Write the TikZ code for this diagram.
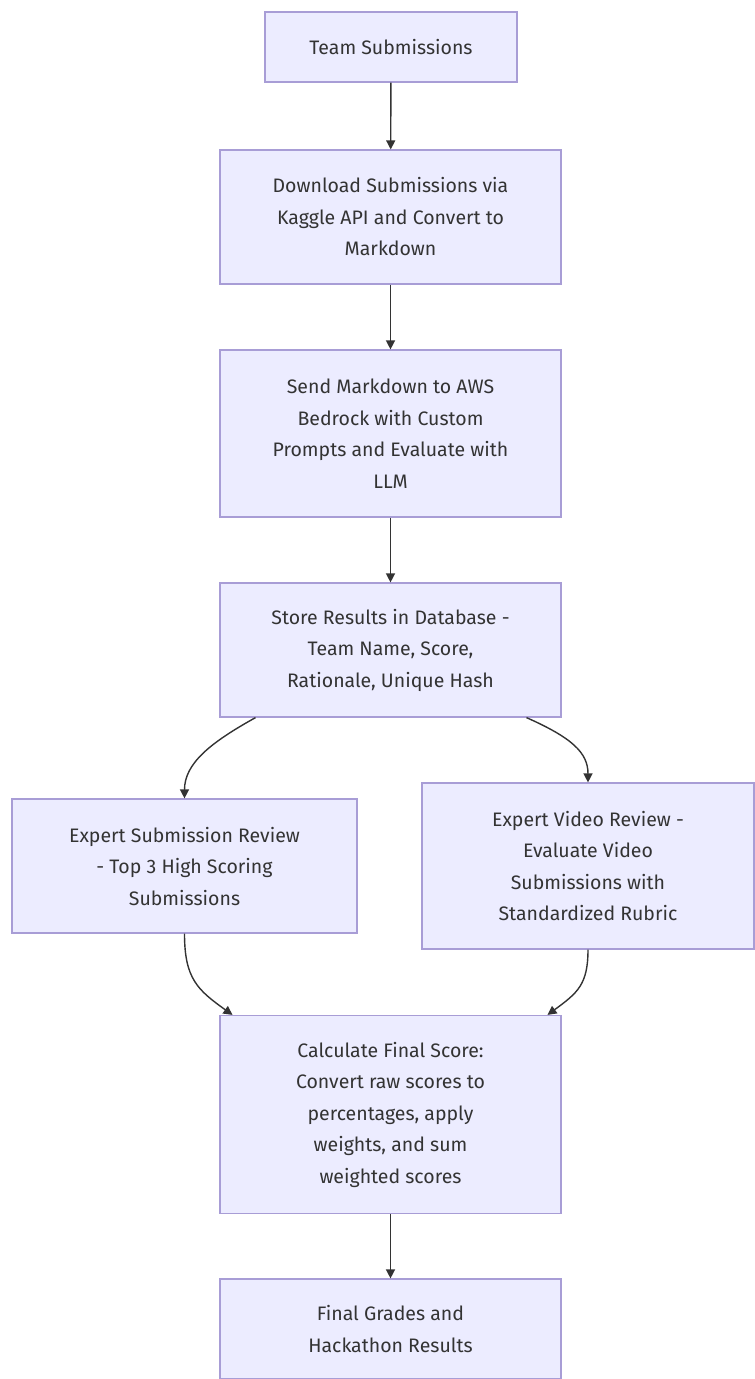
\documentclass[tikz,border=0pt]{standalone}
\usepackage{fontspec}
\setmainfont{Fira Sans}
\usepackage{xcolor}
\usetikzlibrary{arrows.meta, calc}
\definecolor{boxfill}{HTML}{ECECFF}
\definecolor{boxline}{HTML}{A89DD6}
\definecolor{inkgrey}{HTML}{333333}
\begin{document}
\begin{tikzpicture}[x=1pt, y=1pt,
        stepbox/.style={draw=boxline, fill=boxfill, line width=1.2pt, text=inkgrey, align=center,
            font=\fontsize{19.5}{31.5}\selectfont, inner sep=0pt},
        flow/.style={draw=inkgrey, line width=1.4pt, -{Triangle[length=9pt, width=9pt]}}]
        \useasboundingbox (0,0) rectangle (755,-1379);
        \node[stepbox, minimum width=252, minimum height=70] (team) at (391,-47) {Team Submissions};
        \node[stepbox, minimum width=341, minimum height=134] (download) at (390.5,-217)
            {Download Submissions via\\Kaggle API and Convert to\\Markdown};
        \node[stepbox, minimum width=341, minimum height=167] (bedrock) at (390.5,-433.5)
            {Send Markdown to AWS\\Bedrock with Custom\\Prompts and Evaluate with\\LLM};
        \node[stepbox, minimum width=341, minimum height=134] (store) at (390.5,-650)
            {Store Results in Database -\\Team Name, Score,\\Rationale, Unique Hash};
        \node[stepbox, minimum width=345, minimum height=134] (subreview) at (184.5,-866)
            {Expert Submission Review\\- Top 3 High Scoring\\Submissions};
        \node[stepbox, minimum width=332, minimum height=166] (videoreview) at (588,-866)
            {Expert Video Review -\\Evaluate Video\\Submissions with\\Standardized Rubric};
        \node[stepbox, minimum width=341, minimum height=198] (final) at (390.5,-1114.5)
            {Calculate Final Score:\\Convert raw scores to\\percentages, apply\\weights, and sum\\weighted scores};
        \node[stepbox, minimum width=341, minimum height=100] (grades) at (390.5,-1329)
            {Final Grades and\\Hackathon Results};
        \draw[flow] (team) -- (download);
        \draw[flow] (download) -- (bedrock);
        \draw[flow] (bedrock) -- (store);
        \draw[flow] ($(store.south)+(-135,0)$) .. controls +(-45,-25) and +(0,35) .. (subreview.north);
        \draw[flow] ($(store.south)+(136,0)$) .. controls +(45,-20) and +(0,30) .. (videoreview.north);
        \draw[flow] (subreview.south) .. controls +(0,-45) and +(-35,25) .. ($(final.north)+(-158,0)$);
        \draw[flow] (videoreview.south) .. controls +(0,-35) and +(30,22) .. ($(final.north)+(157,0)$);
        \draw[flow] (final) -- (grades);
\end{tikzpicture}
\end{document}
